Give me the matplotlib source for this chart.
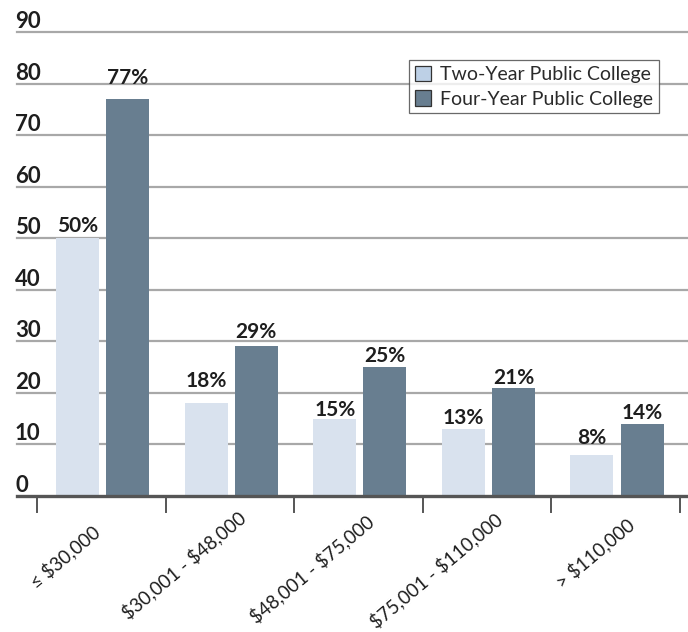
import numpy as np
import matplotlib.pyplot as plt
import matplotlib

matplotlib.rc('font', family='Lato')

categories = ['\u2264 $30,000', '$30,001 - $48,000', '$48,001 - $75,000',
              '$75,001 - $110,000', '> $110,000']
two_year = [50, 18, 15, 13, 8]
four_year = [77, 29, 25, 21, 14]
yticks = [0, 10, 20, 30, 40, 50, 60, 70, 80, 90]

c_light = '#d9e2ee'
c_dark = '#687e90'
c_legend_light = '#bdd0e6'
c_text = '#1e1e1e'

# gap (px) between bar top and label baseline, as in the original
pad_two = [6, 16, 3, 5, 11]
pad_four = [15, 8, 5, 4, 5]
# nudges for the rotated category labels (px)
lab_dx = [-10, 7, 7, 7, 10]
lab_dy = [26, 12, 16, 14, 19]

fig = plt.figure(figsize=(6.88, 6.32), dpi=100)
ax = fig.add_axes([0.0, (632 - 496) / 632, 1.0, 496 / 632])

scale = 464 / 90.0  # pixels per unit on y
ax.set_ylim(0, 496 / scale)
x0 = 37.0
step = (680 - 37) / 5.0
ax.set_xlim(-0.5 - x0 / step, 4.5 + (688 - 680) / step)

x = np.arange(len(categories))
w = 0.335
off = 0.195
sh = 0.01
ax.bar(x + sh - off, two_year, w, color=c_light, zorder=3)
ax.bar(x + sh + off, four_year, w, color=c_dark, zorder=3)

# gridlines and y labels
xl = ax.get_xlim()
for t in yticks[1:]:
    ax.plot([xl[0] + 17 / step, xl[1]], [t, t], color='#a8a8a8', lw=1.6, zorder=1)
for t in yticks:
    ax.text(xl[0] + 15 / step, t + 4 / scale, str(t), fontsize=16, fontweight='bold',
            color=c_text, ha='left', va='baseline', zorder=4)

# baseline and ticks
ax.plot([xl[0] + 17 / step, xl[1]], [0, 0], color='#555555', lw=2.4, zorder=4,
        clip_on=False)
for b in np.arange(-0.5, 5.0, 1.0):
    ax.plot([b, b], [0, -16 / scale], color='#555555', lw=1.4, clip_on=False)

# value labels
for xi, v, p in zip(x, two_year, pad_two):
    ax.text(xi + sh - off, v + p / scale, '%d%%' % v, ha='center', va='baseline',
            fontsize=15, fontweight='bold', color=c_text, zorder=4)
for xi, v, p in zip(x, four_year, pad_four):
    ax.text(xi + sh + off, v + p / scale, '%d%%' % v, ha='center', va='baseline',
            fontsize=15, fontweight='bold', color=c_text, zorder=4)

# category labels
for xi, lab, dx, dy in zip(x, categories, lab_dx, lab_dy):
    ax.text(xi + dx / step, -dy / scale, lab.replace('$', r'\$'), rotation=40,
            rotation_mode='anchor', ha='right', va='top', fontsize=13.5,
            color=c_text, clip_on=False)

ax.axis('off')

h1 = matplotlib.patches.Patch(facecolor=c_legend_light, edgecolor='#333333', lw=0.9)
h2 = matplotlib.patches.Patch(facecolor=c_dark, edgecolor='#333333', lw=0.9)
leg = ax.legend([h1, h2], ['Two-Year Public College', 'Four-Year Public College'],
                loc='upper right', bbox_to_anchor=(659 / 688, 1 - 60 / 496),
                fontsize=14, frameon=True, fancybox=False, handlelength=0.85,
                handleheight=0.85, handletextpad=0.45, borderpad=0.3,
                labelspacing=0.35, borderaxespad=0)
leg.get_frame().set_edgecolor('#444444')
leg.get_frame().set_linewidth(0.9)
leg.set_zorder(5)
for t in leg.get_texts():
    t.set_color('#2a2a2a')

plt.savefig('out.png', dpi=100)
